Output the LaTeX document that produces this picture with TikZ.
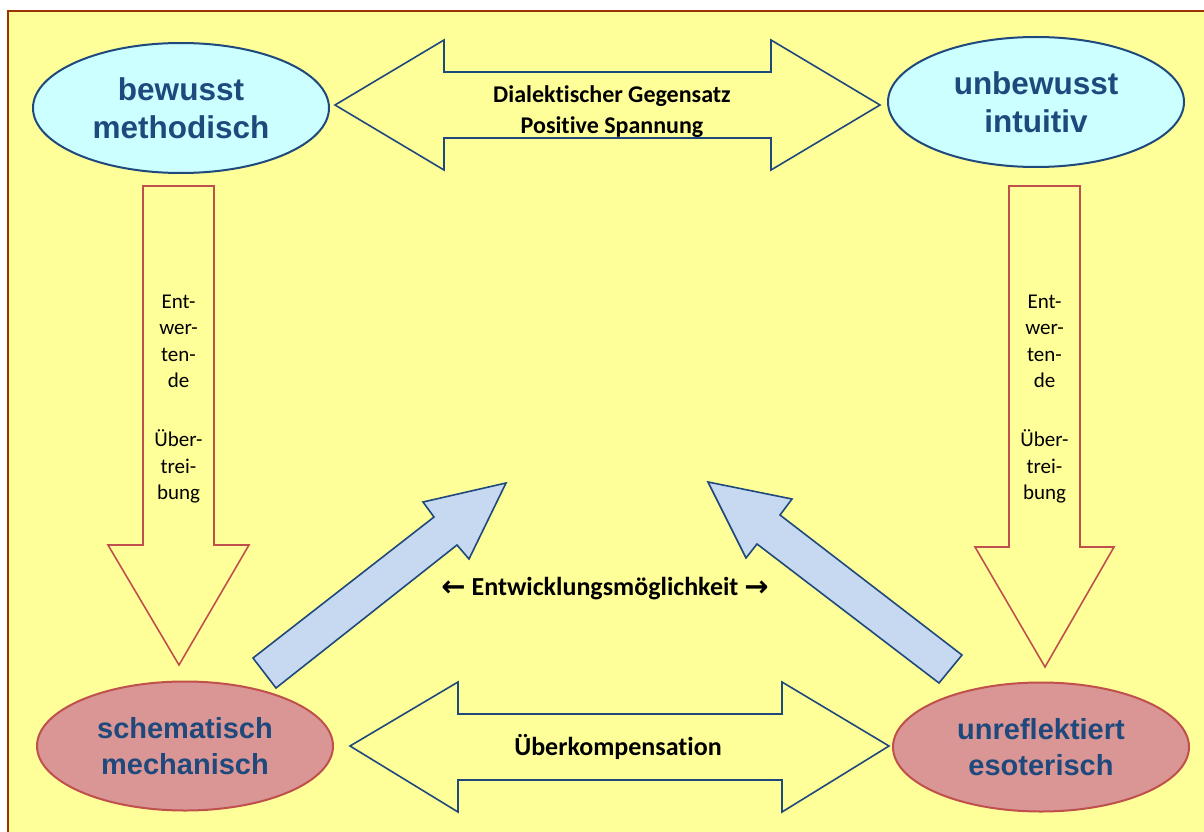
\documentclass[tikz,border=0pt]{standalone}
\usepackage{fontspec}
\setmainfont{Carlito}[Ligatures={CommonOff,TeX}]
\newfontfamily\arialfont{Liberation Sans}
\newfontfamily\arrowfont{DejaVu Sans}
\usetikzlibrary{shapes.geometric}
\definecolor{bgyellow}{HTML}{FFFF99}
\definecolor{framebrown}{HTML}{993300}
\definecolor{darkblue}{HTML}{1F497D}
\definecolor{lightcyan}{HTML}{CCFFFF}
\definecolor{rosefill}{HTML}{D99694}
\definecolor{redline}{HTML}{C0504D}
\definecolor{paleblue}{HTML}{C6D9F1}
\tikzset{
  framebox/.style={draw=framebrown, line width=2pt, fill=bgyellow},
  topell/.style={ellipse, draw=darkblue, line width=2pt, fill=lightcyan, inner sep=0pt,
    minimum width=296pt, minimum height=130pt, align=center, text=darkblue,
    font=\arialfont\bfseries\fontsize{31.5}{38}\selectfont},
  botell/.style={ellipse, draw=redline, line width=2pt, fill=rosefill, inner sep=0pt,
    minimum width=296pt, minimum height=129pt, align=center, text=darkblue,
    font=\arialfont\bfseries\fontsize{29}{36}\selectfont},
  dblarrow/.style={draw=darkblue, line width=1.6pt, fill=bgyellow, line join=miter},
  downarrow/.style={draw=redline, line width=1.6pt, fill=bgyellow, line join=miter},
  uparrow/.style={draw=darkblue, line width=1.6pt, fill=paleblue, line join=miter},
  vtext/.style={align=center, inner sep=0pt, font=\fontsize{21}{26.5}\selectfont},
  boldlabel/.style={align=center, inner sep=0pt, font=\bfseries\fontsize{24}{31}\selectfont},
  biglabel/.style={align=center, inner sep=0pt, font=\bfseries\fontsize{26}{31}\selectfont}
}
\newcommand{\bigarr}[1]{{\arrowfont\bfseries\fontsize{29}{31}\selectfont\raisebox{-1pt}{#1}}}
\begin{document}
\begin{tikzpicture}[x=1pt,y=-1pt]
\useasboundingbox (0,0) rectangle (1204,832);
\clip (0,0) rectangle (1204,832);
\draw[framebox] (8,11) rectangle (1240,870);

% top double arrow
\draw[dblarrow] (335,105) -- (444,40) -- (444,72) -- (771,72) -- (771,40) -- (880,105)
  -- (771,170) -- (771,138) -- (444,138) -- (444,170) -- cycle;
% bottom double arrow
\draw[dblarrow] (350,746) -- (458,682) -- (458,714) -- (782,714) -- (782,682) -- (889,746)
  -- (782,812) -- (782,780) -- (458,780) -- (458,812) -- cycle;
% down arrows
\draw[downarrow] (143,186) -- (214,186) -- (214,545) -- (249,545) -- (179,665)
  -- (108,545) -- (143,545) -- cycle;
\draw[downarrow] (1009,186) -- (1080,186) -- (1080,547) -- (1114,547) -- (1045,667)
  -- (975,547) -- (1009,547) -- cycle;
% diagonal arrows
\draw[uparrow] (253,658) -- (434,517) -- (423,502) -- (506,483) -- (469,559)
  -- (457,545) -- (276,688) -- cycle;
\draw[uparrow] (708,482) -- (792,499) -- (780,515) -- (962,655) -- (939,683)
  -- (757,544) -- (746,558) -- cycle;

% ellipses
\node[topell] (bm) at (181,108) {bewusst\\methodisch};
\node[topell] (ui) at (1036,102) {unbewusst\\intuitiv};
\node[botell] (sm) at (185,746) {schematisch\\mechanisch};
\node[botell] (ue) at (1041,747) {unreflektiert\\esoterisch};

% labels
\node[boldlabel] (dg) at (612,112) {Dialektischer Gegensatz\\Positive Spannung};
\node[biglabel] (uk) at (618,747) {Überkompensation};
\node[biglabel] (em) at (605,589) {\bigarr{←} Entwicklungsmöglichkeit \bigarr{→}};
\node[vtext] (lt) at (178.5,399) {Ent-\\wer-\\ten-\\de\\[32.5pt]Über-\\trei-\\bung};
\node[vtext] (rt) at (1044.5,399) {Ent-\\wer-\\ten-\\de\\[32.5pt]Über-\\trei-\\bung};
\end{tikzpicture}
\end{document}
